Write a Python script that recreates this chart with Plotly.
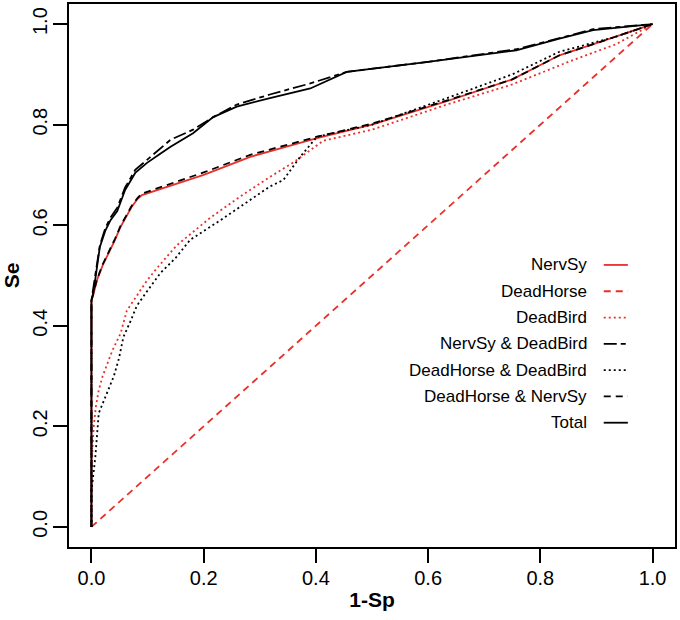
import plotly.graph_objects as go

# ---------------- data ----------------
series_names = ["NervSy", "DeadHorse", "DeadBird", "NervSy & DeadBird",
                "DeadHorse & DeadBird", "DeadHorse & NervSy", "Total"]

nervsy_x = [0, 0, 0.003, 0.01, 0.02, 0.031, 0.042, 0.052, 0.062, 0.072, 0.082, 0.09,
            0.2, 0.283, 0.402, 0.5, 0.639, 0.75, 0.834, 0.9, 1.0]
nervsy_y = [0, 0.45, 0.46, 0.491, 0.52, 0.544, 0.571, 0.597, 0.617, 0.637, 0.652, 0.66,
            0.70, 0.736, 0.773, 0.80, 0.849, 0.89, 0.938, 0.962, 1.0]

deadhorse_x = [0, 1.0]
deadhorse_y = [0, 1.0]

deadbird_x = [0, 0, 0.002, 0.004, 0.008, 0.013, 0.02, 0.028, 0.037, 0.052, 0.063, 0.081,
              0.099, 0.117, 0.152, 0.212, 0.265, 0.318, 0.36, 0.413, 0.5, 0.639, 0.75,
              0.85, 0.935, 1.0]
deadbird_y = [0, 0.1, 0.16, 0.2, 0.24, 0.272, 0.30, 0.325, 0.35, 0.385, 0.43, 0.46,
              0.49, 0.515, 0.56, 0.615, 0.657, 0.696, 0.725, 0.768, 0.79, 0.842, 0.88,
              0.925, 0.96, 1.0]

nervsy_deadbird_x = [0, 0, 0.004, 0.008, 0.015, 0.025, 0.034, 0.046, 0.06, 0.078, 0.099,
                     0.12, 0.141, 0.181, 0.217, 0.259, 0.318, 0.39, 0.425, 0.455, 0.6,
                     0.757, 0.834, 0.894, 1.0]
nervsy_deadbird_y = [0, 0.45, 0.48, 0.51, 0.56, 0.595, 0.615, 0.635, 0.675, 0.71, 0.73,
                     0.75, 0.77, 0.79, 0.815, 0.84, 0.86, 0.882, 0.895, 0.905, 0.925,
                     0.95, 0.972, 0.99, 1.0]

deadhorse_deadbird_x = [0, 0, 0.004, 0.007, 0.013, 0.02, 0.028, 0.04, 0.049, 0.057, 0.07,
                        0.081, 0.1, 0.123, 0.15, 0.176, 0.23, 0.283, 0.318, 0.342, 0.372,
                        0.402, 0.5, 0.639, 0.75, 0.834, 0.935, 1.0]
deadhorse_deadbird_y = [0, 0.07, 0.11, 0.14, 0.226, 0.245, 0.266, 0.30, 0.335, 0.378, 0.41,
                        0.44, 0.47, 0.505, 0.535, 0.571, 0.61, 0.65, 0.677, 0.69, 0.736,
                        0.776, 0.80, 0.855, 0.90, 0.945, 0.975, 1.0]

deadhorse_nervsy_x = [0, 0, 0.003, 0.01, 0.02, 0.031, 0.042, 0.052, 0.062, 0.072, 0.082,
                      0.09, 0.2, 0.283, 0.402, 0.5, 0.639, 0.75, 0.834, 0.9, 1.0]
deadhorse_nervsy_y = [0, 0.45, 0.463, 0.493, 0.522, 0.546, 0.573, 0.599, 0.619, 0.639, 0.654,
                      0.663, 0.705, 0.74, 0.776, 0.802, 0.85, 0.89, 0.938, 0.962, 1.0]

total_x = [0, 0, 0.004, 0.008, 0.015, 0.025, 0.034, 0.046, 0.06, 0.078, 0.099, 0.12,
           0.141, 0.181, 0.217, 0.259, 0.318, 0.39, 0.425, 0.455, 0.6, 0.757, 0.834,
           0.894, 1.0]
total_y = [0, 0.45, 0.47, 0.50, 0.557, 0.59, 0.61, 0.628, 0.67, 0.704, 0.724, 0.74,
           0.756, 0.783, 0.815, 0.836, 0.853, 0.872, 0.89, 0.905, 0.925, 0.948, 0.971,
           0.988, 1.0]

tick_vals = [0, 0.2, 0.4, 0.6, 0.8, 1.0]
tick_text = ["0.0", "0.2", "0.4", "0.6", "0.8", "1.0"]

# ---------------- styles ----------------
RED = "#E8302A"
BLACK = "#000000"
DASH = "7px,5px"
DOT = "2px,3px"
TWODASH = "13px,4px,5px,4px"
FONT = "Liberation Sans, Arial, Helvetica, sans-serif"

series = [
    (nervsy_x, nervsy_y, RED, "solid"),
    (deadhorse_x, deadhorse_y, RED, DASH),
    (deadbird_x, deadbird_y, RED, DOT),
    (nervsy_deadbird_x, nervsy_deadbird_y, BLACK, TWODASH),
    (deadhorse_deadbird_x, deadhorse_deadbird_y, BLACK, DOT),
    (deadhorse_nervsy_x, deadhorse_nervsy_y, BLACK, DASH),
    (total_x, total_y, BLACK, "solid"),
]

fig = go.Figure()
for name, (xs, ys, col, dash) in zip(series_names, series):
    fig.add_trace(go.Scatter(x=xs, y=ys, mode="lines", name=name,
                             line=dict(color=col, width=1.8, dash=dash),
                             showlegend=False, hoverinfo="skip"))

# Legend drawn R-style: right-aligned text, line sample on the right
shapes = []
annotations = []
row_top = 0.521
row_step = 0.0523
for i, (name, (xs, ys, col, dash)) in enumerate(zip(series_names, series)):
    yy = row_top - i * row_step
    annotations.append(dict(x=0.886, y=yy, xref="x", yref="y", text=name,
                            showarrow=False, xanchor="right", yanchor="middle",
                            font=dict(family=FONT, size=17, color="black")))
    shapes.append(dict(type="line", xref="x", yref="y", x0=0.913, x1=0.956,
                       y0=yy, y1=yy, line=dict(color=col, width=1.8, dash=dash)))

axis_common = dict(
    tickvals=tick_vals, ticktext=tick_text, range=[-0.04, 1.04],
    showgrid=False, zeroline=False, showline=True, mirror=True, automargin=False,
    linecolor="black", linewidth=2, ticks="outside", ticklen=14, tickwidth=2,
    tickcolor="black", tickfont=dict(family=FONT, size=20, color="black"),
)

fig.update_layout(
    width=680, height=620,
    margin=dict(l=69, r=5, t=4, b=73),
    paper_bgcolor="white", plot_bgcolor="white",
    font=dict(family=FONT, color="black"),
    shapes=shapes, annotations=annotations,
    xaxis=dict(**axis_common, ticklabelstandoff=-2,
               title=dict(text="<b>1-Sp</b>", font=dict(family=FONT, size=21, color="black"),
                          standoff=4)),
    yaxis=dict(**axis_common, tickangle=-90, ticklabelstandoff=-2,
               title=dict(text="<b>Se</b>", font=dict(family=FONT, size=21, color="black"),
                          standoff=4)),
)

fig.write_html("out.html", config={"displayModeBar": False},
               post_script="document.body.style.margin='0';")
